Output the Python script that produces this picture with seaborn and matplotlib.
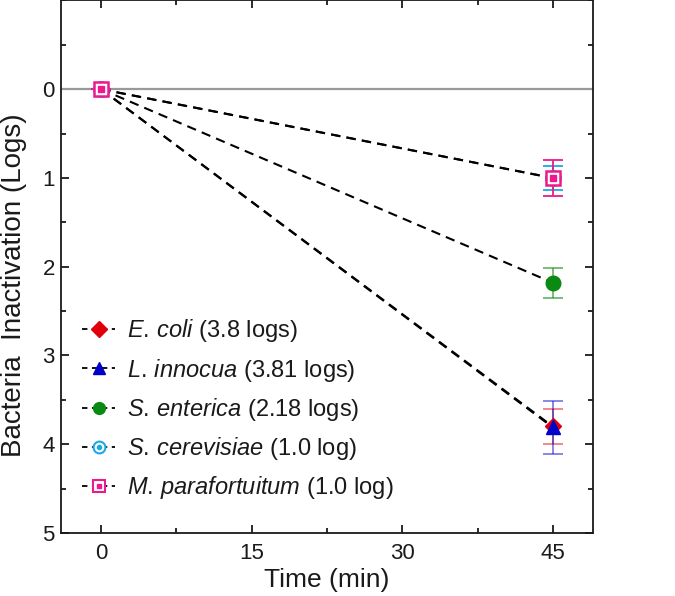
import numpy as np
import pandas as pd
import seaborn as sns
import matplotlib.pyplot as plt
from matplotlib.lines import Line2D
from matplotlib.legend_handler import HandlerTuple
from matplotlib.ticker import MultipleLocator

# data
strains = ['E. coli', 'L. innocua', 'S. enterica', 'S. cerevisiae', 'M. parafortuitum']
labels = [r'$\mathit{E.\,coli}$ (3.8 logs)',
          r'$\mathit{L.\,innocua}$ (3.81 logs)',
          r'$\mathit{S.\,enterica}$ (2.18 logs)',
          r'$\mathit{S.\,cerevisiae}$ (1.0 log)',
          r'$\mathit{M.\,parafortuitum}$ (1.0 log)']
times = [0, 45]
inact_end = [3.80, 3.81, 2.18, 1.0, 1.0]
err_end = [0.20, 0.30, 0.17, 0.135, 0.20]
colors = ['#e0000b', '#0000c8', '#0a8a12', '#1ea8e6', '#ec1a8c']
err_alpha = [0.5, 0.5, 0.6, 1.0, 1.0]

rows = []
for s, v in zip(strains, inact_end):
    rows.append({'strain': s, 'time': times[0], 'inact': 0.0})
    rows.append({'strain': s, 'time': times[1], 'inact': v})
df = pd.DataFrame(rows)

sns.set_style('ticks')
plt.rcParams['font.family'] = ['Liberation Sans', 'DejaVu Sans']
plt.rcParams['mathtext.fontset'] = 'custom'
plt.rcParams['mathtext.it'] = 'Liberation Sans:italic'
plt.rcParams['mathtext.rm'] = 'Liberation Sans'
txt = '#1a1a1a'
plt.rcParams['text.color'] = txt
plt.rcParams['axes.labelcolor'] = txt
plt.rcParams['xtick.color'] = txt
plt.rcParams['ytick.color'] = txt
plt.rcParams['axes.edgecolor'] = txt

fig = plt.figure(figsize=(6.75, 5.96), dpi=100)
ax = fig.add_axes([0.0904, 0.1057, 0.788, 0.8935])

ax.axhline(0, color='#999999', lw=1.6, zorder=1)

sns.lineplot(data=df, x='time', y='inact', units='strain', estimator=None,
             color='black', lw=1.5, ax=ax, zorder=2, legend=False)
for ln in ax.lines[1:]:
    ln.set_dashes([4.5, 3])

ms = 9.5
for i, s in enumerate(strains):
    sub = df[df.strain == s]
    ax.errorbar(sub.time, sub.inact, yerr=[0, err_end[i]], fmt='none',
                ecolor=colors[i], alpha=err_alpha[i], elinewidth=1.3,
                capsize=7, capthick=1.3, zorder=3)
    if i == 0:
        ax.plot(sub.time, sub.inact, 'D', color=colors[i], ms=ms - 1, ls='none', zorder=4)
    elif i == 1:
        ax.plot(sub.time, sub.inact, '^', color=colors[i], ms=ms, ls='none', zorder=4)
    elif i == 2:
        ax.plot(sub.time, sub.inact, 'o', color=colors[i], ms=ms + 1, ls='none', zorder=4)
    elif i == 3:
        ax.plot(sub.time, sub.inact, 'o', mfc='white', mec=colors[i], mew=1.6, ms=ms + 1, ls='none', zorder=4)
        ax.plot(sub.time, sub.inact, 'o', color=colors[i], ms=3.5, ls='none', zorder=4)
    else:
        ax.plot(sub.time, sub.inact, 's', mfc='white', mec=colors[i], mew=1.8, ms=ms, ls='none', zorder=5)
        ax.plot(sub.time, sub.inact, 's', color=colors[i], ms=4, ls='none', zorder=5)

ax.set_xlim(-4, 49)
ax.set_ylim(5, -1)
ax.set_xticks([0, 15, 30, 45])
ax.set_yticks([0, 1, 2, 3, 4, 5])
ax.xaxis.set_minor_locator(MultipleLocator(7.5))
ax.yaxis.set_minor_locator(MultipleLocator(0.5))
ax.tick_params(which='both', direction='in', top=True, right=True, width=1.3)
ax.tick_params(which='major', length=6, labelsize=16)
ax.tick_params(axis='x', which='major', pad=7)
ax.tick_params(axis='y', which='major', pad=4.5)
ax.tick_params(which='minor', length=3.5)
for sp in ax.spines.values():
    sp.set_linewidth(1.3)
    sp.set_visible(True)

ax.set_xlabel('Time (min)', fontsize=19, labelpad=3)
ax.set_ylabel('Bacteria  Inactivation (Logs)', fontsize=20)
ax.yaxis.set_label_coords(-0.064, 0.466)

dash = dict(color='black', ls='--', dashes=[3, 2.5], lw=1.3)
handles = [
    Line2D([], [], marker='D', mfc=colors[0], mec=colors[0], ms=8, **dash),
    Line2D([], [], marker='^', mfc=colors[1], mec=colors[1], ms=8, **dash),
    Line2D([], [], marker='o', mfc=colors[2], mec=colors[2], ms=8.5, **dash),
    (Line2D([], [], marker='o', mfc='white', mec=colors[3], mew=1.5, ms=8.5, **dash),
     Line2D([], [], marker='o', color=colors[3], ms=3, ls='none')),
    (Line2D([], [], marker='s', mfc='white', mec=colors[4], mew=1.5, ms=8, **dash),
     Line2D([], [], marker='s', color=colors[4], ms=3.5, ls='none')),
]
ax.legend(handles, labels, loc='upper left', bbox_to_anchor=(0.0, 0.445),
          frameon=False, fontsize=17, handlelength=1.4, handletextpad=0.5,
          labelspacing=0.52, handler_map={tuple: HandlerTuple(ndivide=1)})

fig.savefig('out.png', dpi=100)
